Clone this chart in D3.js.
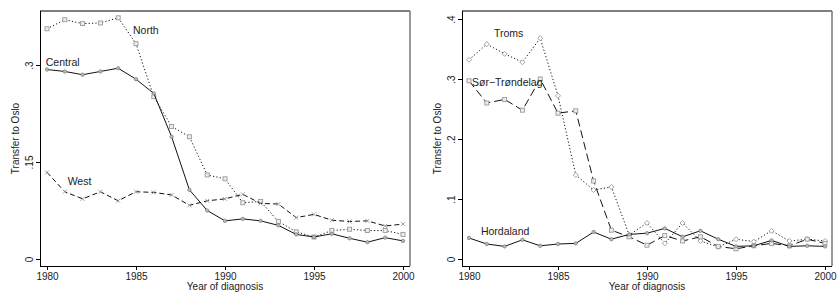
<!DOCTYPE html>
<html lang="en">
<head>
    <meta charset="UTF-8">
    <title>Transfer to Oslo</title>
    <style>
        body { margin: 0; background: #fff; }
        text { font-family: "Liberation Sans", Arial, sans-serif; fill: #222; }
    </style>
</head>
<script src="https://cdn.jsdelivr.net/npm/d3@7"></script>
<body>
<script>
    // data
    var years = d3.range(1980, 2001);
    var north   = [0.356, 0.370, 0.364, 0.365, 0.373, 0.333, 0.251, 0.205, 0.189, 0.130, 0.124,
                   0.087, 0.089, 0.058, 0.042, 0.034, 0.044, 0.046, 0.044, 0.044, 0.038];
    var central = [0.293, 0.290, 0.285, 0.290, 0.295, 0.278, 0.256, 0.189, 0.107, 0.075, 0.059,
                   0.062, 0.059, 0.052, 0.038, 0.034, 0.039, 0.032, 0.026, 0.033, 0.028];
    var west    = [0.134, 0.104, 0.093, 0.104, 0.090, 0.104, 0.103, 0.099, 0.083, 0.090, 0.093,
                   0.100, 0.086, 0.085, 0.064, 0.069, 0.060, 0.058, 0.059, 0.051, 0.054];
    var troms   = [0.332, 0.358, 0.342, 0.328, 0.368, 0.272, 0.140, 0.115, 0.120, 0.040, 0.060,
                   0.026, 0.060, 0.030, 0.020, 0.033, 0.029, 0.047, 0.030, 0.033, 0.030];
    var sorTrondelag = [0.297, 0.260, 0.266, 0.248, 0.300, 0.243, 0.247, 0.130, 0.048, 0.037, 0.023,
                   0.039, 0.030, 0.037, 0.021, 0.017, 0.022, 0.026, 0.022, 0.033, 0.026];
    var hordaland = [0.035, 0.025, 0.021, 0.032, 0.022, 0.025, 0.026, 0.045, 0.033, 0.041, 0.043,
                   0.051, 0.037, 0.047, 0.033, 0.021, 0.022, 0.031, 0.021, 0.022, 0.021];
    var xTicks = [1980, 1985, 1990, 1995, 2000];
    var leftTicks = [0, 0.15, 0.3];
    var rightTicks = [0, 0.1, 0.2, 0.3, 0.4];

    var svg = d3.select("body").append("svg")
        .attr("width", 837)
        .attr("height", 293);

    function fmt(d) {
        return d === 0 ? "0" : String(d).replace(/^0/, "");
    }

    function marker(g, shape, x, y) {
        if (shape === "circle") {
            g.append("circle").attr("cx", x).attr("cy", y).attr("r", 1.7)
                .attr("fill", "#bbb").attr("stroke", "#777").attr("stroke-width", 0.7);
        } else if (shape === "square") {
            g.append("rect").attr("x", x - 2).attr("y", y - 2).attr("width", 4).attr("height", 4)
                .attr("fill", "#eee").attr("stroke", "#999").attr("stroke-width", 0.9);
        } else if (shape === "diamond") {
            g.append("path").attr("d", "M" + x + "," + (y - 2.5) + "L" + (x + 2.5) + "," + y +
                    "L" + x + "," + (y + 2.5) + "L" + (x - 2.5) + "," + y + "Z")
                .attr("fill", "#fff").attr("stroke", "#999").attr("stroke-width", 0.9);
        } else if (shape === "x") {
            g.append("path").attr("d", "M" + (x - 2) + "," + (y - 2) + "L" + (x + 2) + "," + (y + 2) +
                    "M" + (x - 2) + "," + (y + 2) + "L" + (x + 2) + "," + (y - 2))
                .attr("stroke", "#999").attr("stroke-width", 0.9);
        }
    }

    function panel(p) {
        var x = d3.scaleLinear().domain([1980, 2000]).range([p.x0, p.x1]);
        var y = d3.scaleLinear().domain(p.yDomain).range(p.yRange);
        var g = svg.append("g");

        // frame
        g.append("line").attr("x1", p.left).attr("x2", p.right).attr("y1", p.top).attr("y2", p.top)
            .attr("stroke", "#000");
        g.append("line").attr("x1", p.right).attr("x2", p.right).attr("y1", p.top).attr("y2", p.bottom)
            .attr("stroke", "#777").attr("stroke-width", 1.5);

        var ax = g.append("g")
            .attr("transform", "translate(0," + p.bottom + ")")
            .call(d3.axisBottom(x).tickValues(xTicks).tickFormat(d3.format("d")).tickSize(4).tickSizeOuter(0));
        ax.select(".domain").attr("d", "M" + p.left + ",0.5H" + p.right);
        ax.selectAll("text").attr("y", 7).attr("font-size", 10).attr("fill", "#222")
            .style("font-family", "Liberation Sans, Arial, sans-serif");

        var ay = g.append("g")
            .attr("transform", "translate(" + p.left + ",0)")
            .call(d3.axisLeft(y).tickValues(p.ticks).tickFormat(fmt).tickSize(4).tickSizeOuter(0));
        ay.select(".domain").attr("d", "M0.5," + p.top + "V" + p.bottom);
        ay.selectAll("text")
            .attr("x", 0).attr("y", -7).attr("dy", 0)
            .attr("transform", "rotate(-90)")
            .style("text-anchor", "middle")
            .attr("font-size", 10).attr("fill", "#222")
            .style("font-family", "Liberation Sans, Arial, sans-serif");

        g.append("text")
            .attr("transform", "translate(" + (p.left - 21) + "," + ((p.top + p.bottom) / 2) + ") rotate(-90)")
            .attr("text-anchor", "middle")
            .attr("font-size", 10)
            .text("Transfer to Oslo");
        g.append("text")
            .attr("x", (p.left + p.right) / 2)
            .attr("y", 290)
            .attr("text-anchor", "middle")
            .attr("font-size", 10)
            .text("Year of diagnosis");

        p.series.forEach(function (s) {
            var line = d3.line()
                .x(function (d, i) { return x(years[i]); })
                .y(function (d) { return y(d); });
            g.append("path")
                .datum(s.values)
                .attr("d", line)
                .attr("fill", "none")
                .attr("stroke", "#111")
                .attr("stroke-width", 1)
                .attr("stroke-dasharray", s.dash);
            var mg = g.append("g");
            s.values.forEach(function (v, i) {
                marker(mg, s.shape, x(years[i]), y(v));
            });
            g.append("text")
                .attr("x", x(s.label[0]))
                .attr("y", y(s.label[1]))
                .attr("font-size", 10.5)
                .text(s.name);
        });
    }

    panel({
        left: 40, right: 410, top: 11, bottom: 266,
        x0: 47, x1: 403,
        yDomain: [0, 0.15], yRange: [259, 162],
        ticks: leftTicks,
        series: [
            {name: "North", values: north, dash: "1.2,2.2", shape: "square", label: [1984.83, 0.348]},
            {name: "Central", values: central, dash: null, shape: "circle", label: [1979.93, 0.298]},
            {name: "West", values: west, dash: "5,3", shape: "x", label: [1981.16, 0.1144]}
        ]
    });

    panel({
        left: 462, right: 832, top: 11, bottom: 266,
        x0: 469, x1: 825,
        yDomain: [0, 0.4], yRange: [259, 19],
        ticks: rightTicks,
        series: [
            {name: "Troms", values: troms, dash: "1.2,2.2", shape: "diamond", label: [1981.4, 0.37]},
            {name: "Sør−Trøndelag", values: sorTrondelag, dash: "8,4", shape: "square", label: [1980.17, 0.288]},
            {name: "Hordaland", values: hordaland, dash: null, shape: "circle", label: [1980.67, 0.04]}
        ]
    });
</script>
</body>
</html>
